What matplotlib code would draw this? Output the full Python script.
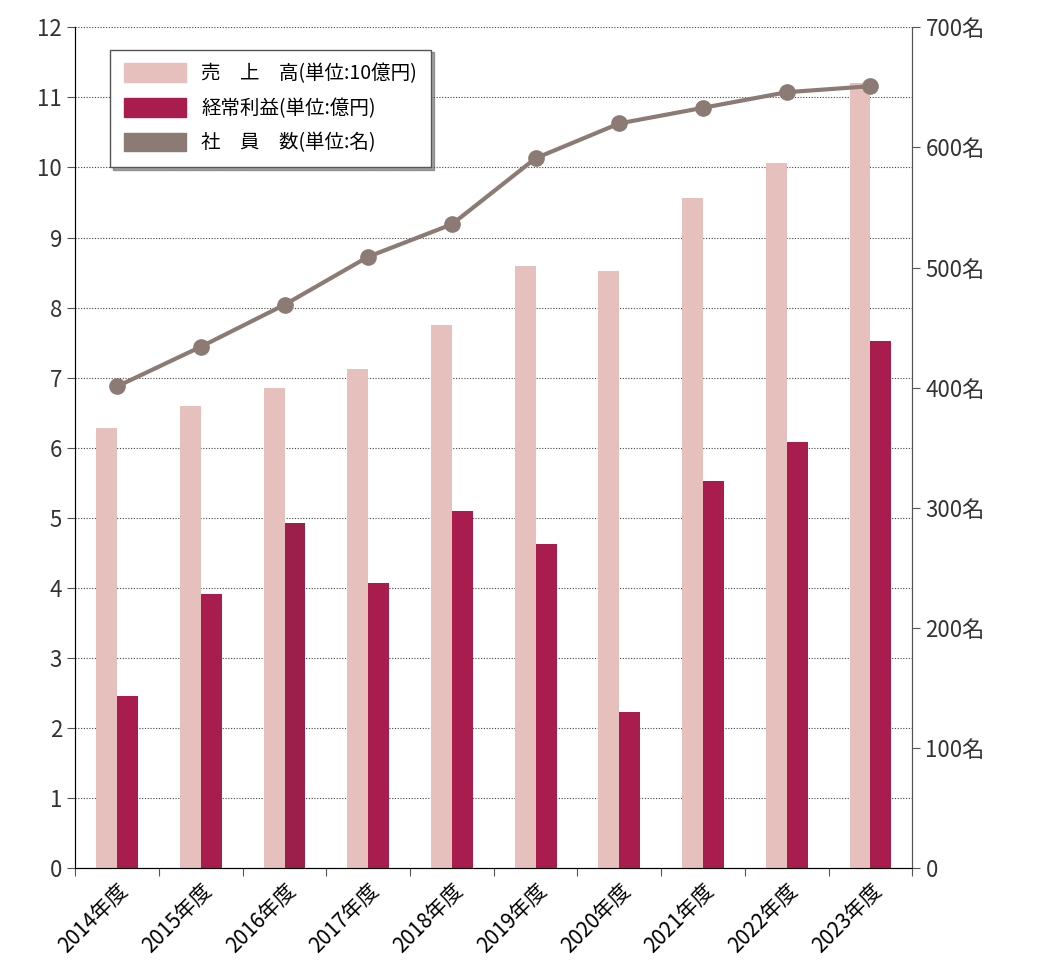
import matplotlib
matplotlib.use('Agg')
import matplotlib.pyplot as plt
import matplotlib.patches as mpatches
import numpy as np

plt.rcParams['font.family'] = 'Noto Sans CJK JP'

years = ['2014年度', '2015年度', '2016年度', '2017年度', '2018年度',
         '2019年度', '2020年度', '2021年度', '2022年度', '2023年度']
sales = [6.28, 6.6, 6.85, 7.13, 7.75, 8.6, 8.52, 9.56, 10.06, 11.2]
profit = [2.45, 3.91, 4.92, 4.07, 5.09, 4.62, 2.23, 5.53, 6.08, 7.52]
staff = [401, 434, 469, 509, 536, 591, 620, 633, 646, 651]

C_SALES = '#e6c0bd'
C_PROFIT = '#a81c4e'
C_STAFF = '#8c7b74'

fig = plt.figure(figsize=(10.45, 9.77), dpi=100)
ax = fig.add_axes([0.072, 0.1116, 0.801, 0.8604])
x = np.arange(len(years))
w = 0.25
ax.bar(x - w / 2, sales, width=w, color=C_SALES, zorder=2)
pcolors = [C_PROFIT] * len(years)
pcolors[2] = '#9b1f4a'
ax.bar(x + w / 2, profit, width=w, color=pcolors, zorder=2)
ax.set_xlim(-0.5, len(years) - 0.5)
ax.set_ylim(0, 12)
ax.set_yticks(range(13))
ax.yaxis.grid(True, linestyle=(0, (1, 1.5)), color='#444444', linewidth=0.8)
ax.set_axisbelow(True)
ax.set_xticks(np.arange(len(years) + 1) - 0.5)
ax.set_xticklabels([])
ax.set_xticks(x, minor=True)
ax.set_xticklabels(years, minor=True, rotation=45, ha='right',
                   rotation_mode='anchor', fontsize=15)
ax.tick_params(axis='x', which='minor', length=0, pad=8)
ax.tick_params(axis='x', which='major', length=6, color='#555555')
ax.tick_params(axis='y', labelsize=16, length=6, color='#555555', labelcolor='#333333')
ax.spines['top'].set_visible(False)
for s in ['left', 'right', 'bottom']:
    ax.spines[s].set_color('#555555')

ax2 = ax.twinx()
ax2.plot(x, staff, color=C_STAFF, linewidth=3, marker='o', markersize=11, zorder=3)
ax2.set_ylim(0, 700)
ax2.set_yticks(range(0, 701, 100))
ax2.set_yticklabels(['0'] + [f'{v}名' for v in range(100, 701, 100)])
ax2.tick_params(axis='y', labelsize=16, length=6, color='#555555', labelcolor='#333333')
ax2.spines['top'].set_visible(False)
ax2.spines['right'].set_color('#555555')

handles = [mpatches.Patch(color=C_SALES), mpatches.Patch(color=C_PROFIT),
           mpatches.Patch(color=C_STAFF)]
labels = ['売　上　高(単位:10億円)', '経常利益(単位:億円)', '社　員　数(単位:名)']
leg = ax2.legend(handles, labels, loc='upper left', bbox_to_anchor=(0.03, 0.985),
                 fontsize=14, fancybox=False, shadow=True, edgecolor='#555555',
                 handlelength=3.2, handleheight=1.1, borderpad=0.7, labelspacing=0.7)
leg.get_frame().set_linewidth(1)

fig.savefig('out.png', dpi=100)
